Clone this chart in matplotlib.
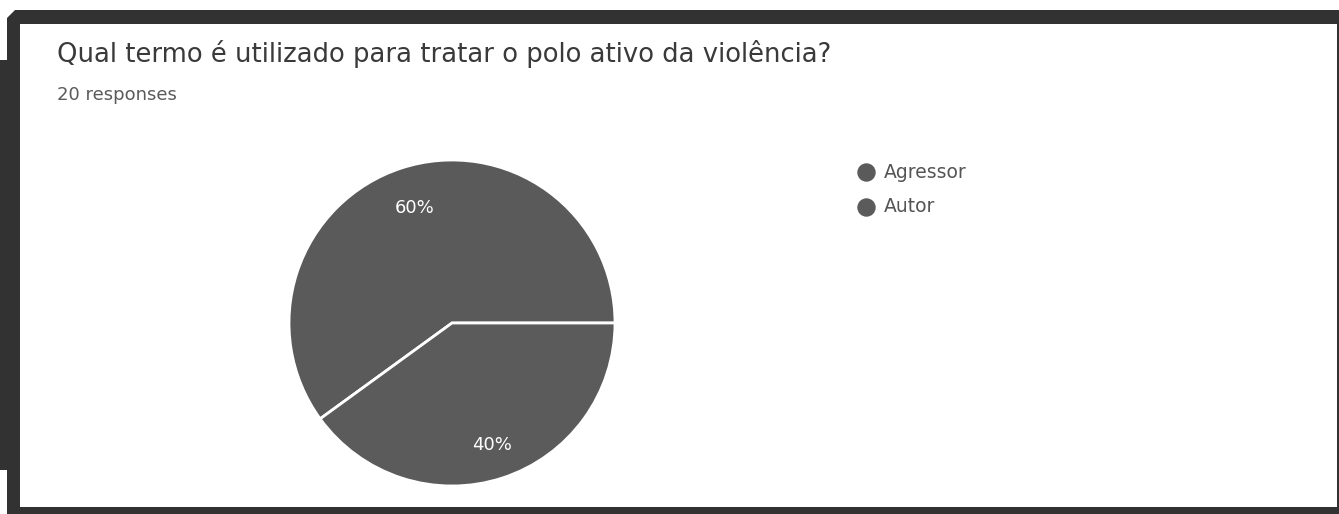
import numpy as np
import matplotlib.pyplot as plt
from matplotlib.patches import Rectangle, Polygon

# chart data
labels = ['Agressor', 'Autor']
values = [60, 40]
colors = ['#5a5a5a', '#5b5b5b']
title = 'Qual termo é utilizado para tratar o polo ativo da violência?'
subtitle = '20 responses'

W, H = 1339, 514
fig = plt.figure(figsize=(W / 100, H / 100), dpi=100)
fig.patch.set_facecolor('white')

# background frame drawn in pixel coordinates
bg = fig.add_axes([0, 0, 1, 1])
bg.set_xlim(0, W)
bg.set_ylim(H, 0)
bg.axis('off')
dark = '#323232'
bg.add_patch(Polygon([(7, 24), (7, 18), (15, 10), (1339, 10), (1339, 24)],
                     closed=True, facecolor=dark, edgecolor='none'))
bg.add_patch(Rectangle((7, 18), 13, 496, facecolor=dark, edgecolor='none'))
bg.add_patch(Rectangle((0, 60), 8, 410, facecolor=dark, edgecolor='none'))
bg.add_patch(Rectangle((7, 507), 1332, 7, facecolor=dark, edgecolor='none'))
bg.add_patch(Rectangle((1337, 10), 2, 504, facecolor=dark, edgecolor='none'))

font = 'DejaVu Sans'
bg.text(57, 54, title, fontsize=18.6, family=font, color='#3a3a3a',
        va='center', ha='left')
bg.text(57, 95, subtitle, fontsize=13, family=font, color='#5a5a5a',
        va='center', ha='left')

# legend
for i, lab in enumerate(labels):
    y = 172 + i * 35
    bg.scatter([866], [y], s=150, color=colors[i], zorder=3)
    bg.text(884, y, lab, fontsize=13.5, family=font, color='#555555',
            va='center', ha='left')

# pie
cx, cy, r = 452, 323, 163
ax = fig.add_axes([(cx - r) / W, (H - cy - r) / H, 2 * r / W, 2 * r / H])
wedges, _, autotexts = ax.pie(
    values, colors=colors, startangle=0, counterclock=True,
    autopct='%1.0f%%', pctdistance=0.75,
    wedgeprops={'edgecolor': 'white', 'linewidth': 2},
    textprops={'color': 'white', 'fontsize': 13, 'family': font})
label_dist = [0.74, 0.79]
for w, t, d in zip(wedges, autotexts, label_dist):
    mid = np.deg2rad((w.theta1 + w.theta2) / 2)
    t.set_position((d * np.cos(mid), d * np.sin(mid)))
ax.set_xlim(-1, 1)
ax.set_ylim(-1, 1)
ax.set_aspect('equal')

fig.savefig('out.png', dpi=100)
